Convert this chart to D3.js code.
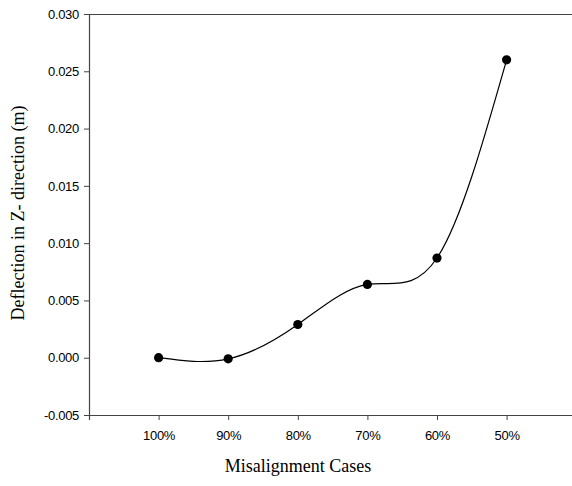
<!DOCTYPE html>
<html>
<head>
<meta charset="utf-8">
<script src="https://cdn.jsdelivr.net/npm/d3@7"></script>
<style>
  html, body { margin: 0; padding: 0; background: #fff; }
  svg { display: block; }
</style>
</head>
<body>
<svg id="chart" width="572" height="486"></svg>
<script>
// Misalignment cases on the x axis, deflection (m) on the y axis
const categories = ["100%", "90%", "80%", "70%", "60%", "50%"];
const deflection = [0.0000, -0.0001, 0.0029, 0.0064, 0.0087, 0.0260];
const yTicks = [-0.005, 0.000, 0.005, 0.010, 0.015, 0.020, 0.025, 0.030];

const svg = d3.select("#chart");
const plotLeft = 89, plotTop = 14, plotBottom = 415;
const step = 69.6;

// positions 0..7: categories sit at 1..6, frame spans 0..7
const x = d3.scaleLinear().domain([0, 7]).range([plotLeft, plotLeft + 7 * step]);
const y = d3.scaleLinear().domain([-0.005, 0.030]).range([plotBottom, plotTop]);

const axisColor = "#444";

// top frame line
svg.append("line")
  .attr("x1", plotLeft).attr("x2", x(7))
  .attr("y1", plotTop + 0.5).attr("y2", plotTop + 0.5)
  .attr("stroke", axisColor).attr("stroke-width", 1.2);

// y axis
const yAxis = svg.append("g")
  .attr("transform", `translate(${plotLeft},0)`)
  .call(d3.axisLeft(y).tickValues(yTicks).tickSize(5).tickPadding(5)
    .tickFormat(d => d3.format(".3f")(d).replace("\u2212", "-")));
// x axis
const xAxis = svg.append("g")
  .attr("transform", `translate(0,${plotBottom})`)
  .call(d3.axisBottom(x).tickValues(d3.range(1, 7)).tickSize(5).tickPadding(11)
    .tickFormat(i => categories[i - 1]));

[yAxis, xAxis].forEach(g => {
  g.select(".domain").attr("stroke", axisColor).attr("stroke-width", 1.2);
  g.selectAll(".tick line").attr("stroke", axisColor);
  g.selectAll("text")
    .attr("fill", "#000")
    .style("font-family", "'Liberation Sans', Arial, sans-serif")
    .style("font-size", "13px")
    .style("letter-spacing", "-0.3px");
});

// smooth curve through the points
const pts = deflection.map((v, i) => [x(i + 1), y(v)]);
svg.append("path")
  .datum(pts)
  .attr("fill", "none")
  .attr("stroke", "#000")
  .attr("stroke-width", 1.2)
  .attr("d", d3.line().curve(d3.curveNatural));

// markers
svg.selectAll("circle.pt")
  .data(deflection)
  .join("circle")
  .attr("class", "pt")
  .attr("cx", (d, i) => x(i + 1))
  .attr("cy", d => y(d))
  .attr("r", 4.6)
  .attr("fill", "#000");

// axis titles
svg.append("text")
  .attr("x", 298).attr("y", 472)
  .attr("text-anchor", "middle")
  .style("font-family", "'Liberation Serif', 'Times New Roman', serif")
  .style("font-size", "18px")
  .text("Misalignment Cases");

svg.append("text")
  .attr("transform", "translate(24,213) rotate(-90)")
  .attr("text-anchor", "middle")
  .style("font-family", "'Liberation Serif', 'Times New Roman', serif")
  .style("font-size", "18px")
  .text("Deflection in Z- direction (m)");
</script>
</body>
</html>
